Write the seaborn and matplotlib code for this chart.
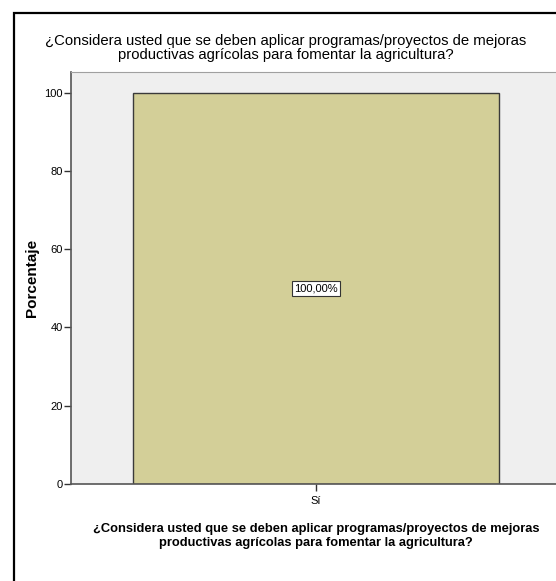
import matplotlib
matplotlib.use("Agg")
import matplotlib.pyplot as plt
import matplotlib.patches as mpatches
import pandas as pd
import seaborn as sns

# Data
categories = ["Sí"]
percentages = [100.0]
bar_labels = ["100,00%"]
y_ticks = [0, 20, 40, 60, 80, 100]
question = ("¿Considera usted que se deben aplicar programas/proyectos de mejoras\n"
            "productivas agrícolas para fomentar la agricultura?")

df = pd.DataFrame({"respuesta": categories, "porcentaje": percentages})

sns.set_theme(style="white")
plt.rcParams["font.family"] = ["Liberation Sans", "DejaVu Sans"]
plt.rcParams["text.color"] = "black"
plt.rcParams["axes.labelcolor"] = "black"
plt.rcParams["xtick.color"] = "black"
plt.rcParams["ytick.color"] = "black"

fig = plt.figure(figsize=(5.56, 5.81), dpi=100)
W, H = 556, 581

# outer frame of the SPSS chart (cropped on right and bottom)
fig.add_artist(mpatches.Rectangle((14 / W, -0.05), 1.2, 1 - 13 / H + 0.05,
                                  transform=fig.transFigure, fill=False,
                                  edgecolor="black", linewidth=1.6))

ax = fig.add_axes([71 / W, (H - 484) / H, 490 / W, (484 - 72) / H])
ax.set_facecolor("#efefef")

sns.barplot(data=df, x="respuesta", y="porcentaje", color="#d3cf98",
            width=0.747, edgecolor="#3a3a3a", linewidth=1.0, saturation=1, ax=ax)

ax.set_xlim(-0.5, 0.5)
ax.set_ylim(0, 100 + (92.7 - 72) / ((484 - 92.7) / 100))
ax.set_yticks(y_ticks)
ax.tick_params(axis="both", direction="out", length=5, width=1, color="#333333",
               labelsize=8, left=True, bottom=True)
ax.tick_params(axis="y", pad=1)
ax.tick_params(axis="x", pad=4)

for side in ["top", "right"]:
    ax.spines[side].set_color("#a0a0a0")
    ax.spines[side].set_linewidth(0.8)
for side in ["left", "bottom"]:
    ax.spines[side].set_color("#555555")
    ax.spines[side].set_linewidth(1.2)

for i, (v, lab) in enumerate(zip(percentages, bar_labels)):
    ax.text(i, v / 2, lab, ha="center", va="center", fontsize=8,
            bbox=dict(boxstyle="square,pad=0.2", facecolor="white", edgecolor="#333333", linewidth=0.8))

ax.set_ylabel("Porcentaje", fontsize=11, fontweight="bold")
ax.yaxis.set_label_coords((39 - 71) / 490, 0.5)
ax.set_xlabel(question, fontsize=9.3, fontweight="bold", linespacing=1.25)
ax.xaxis.set_label_coords(0.5, (484 - 523) / 412)
fig.text(286 / W, 1 - 47.5 / H, question, ha="center", va="center", fontsize=10.7,
         linespacing=1.0)

fig.savefig("out.png", dpi=100)
